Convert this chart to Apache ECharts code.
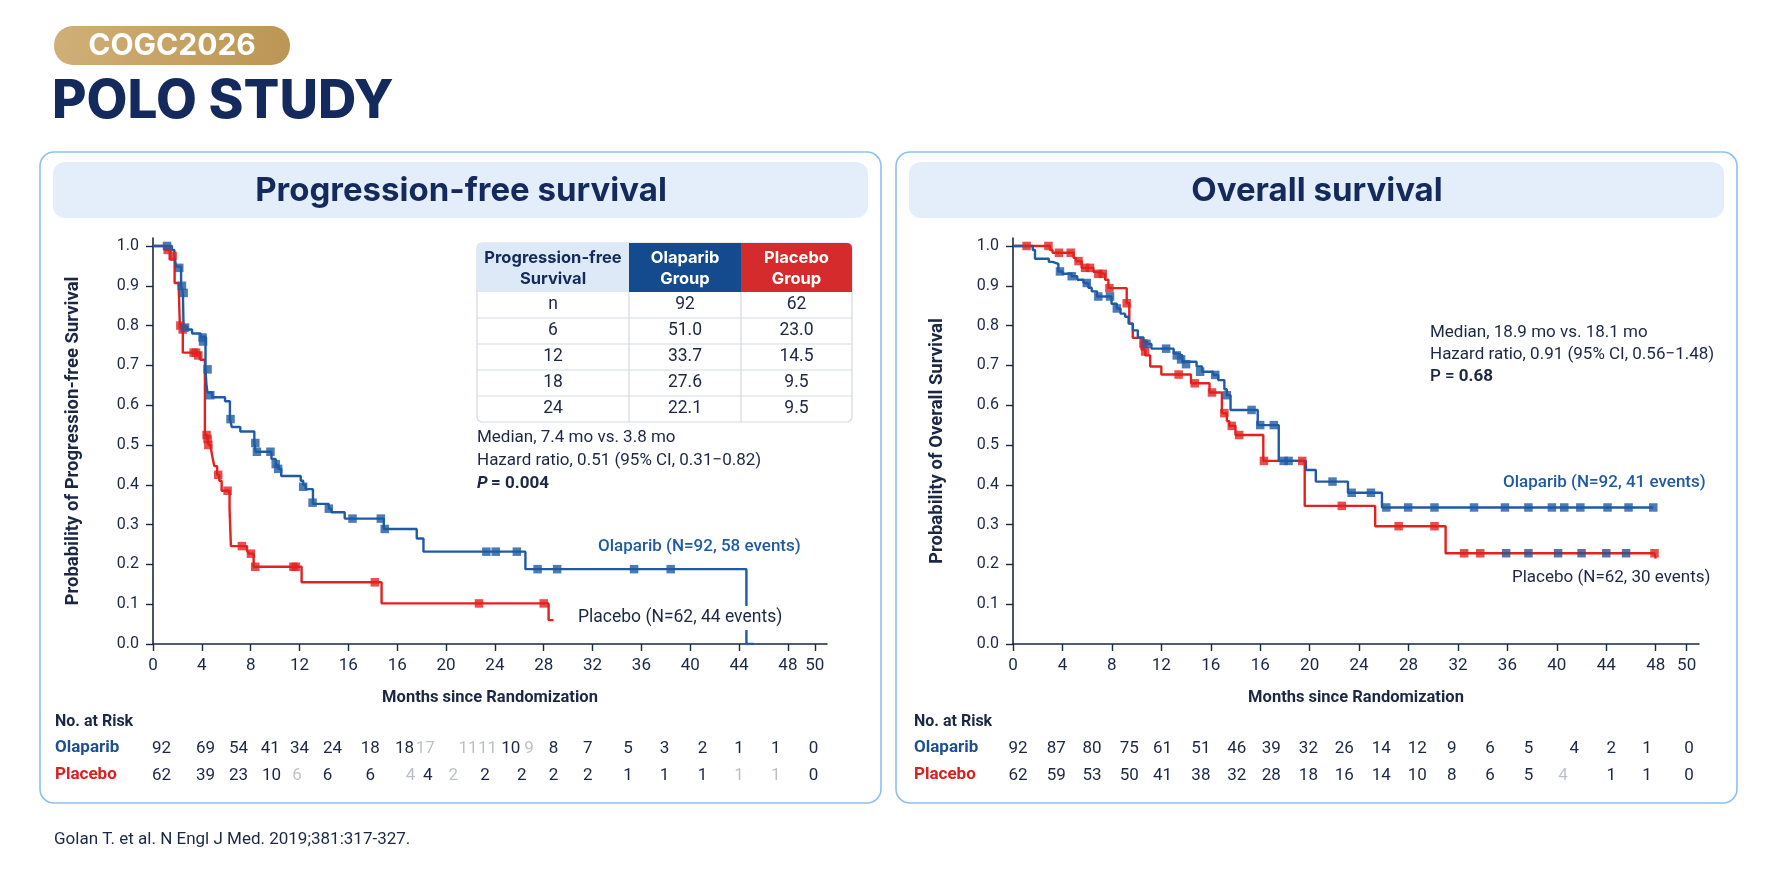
<!DOCTYPE html>
<html>
<head>
<meta charset="utf-8">
<script src="https://cdn.jsdelivr.net/npm/echarts@6/dist/echarts.min.js"></script>
<style>
html,body{margin:0;padding:0;background:#ffffff;}
#c{width:1774px;height:887px;}
</style>
</head>
<body>
<div id="c"></div>
<script>
// ---------- tick labels (axis units: equal spacing per label, as printed) ----------
const X_TICK_LABELS = ['0','4','8','12','16','16','20','24','28','32','36','40','44','48','50'];
const PFS_X_TICKS = [0,4,8,12,16,20,24,28,32,36,40,44,48,52,54.2];
const OS_X_TICKS  = [0,4,8,12,16,20,24,28,32,36,40,44,48,52,54.5];
const Y_TICKS = [0,0.1,0.2,0.3,0.4,0.5,0.6,0.7,0.8,0.9,1.0];

// ---------- Progression-free survival ----------
const PFS_OLA_CURVE = [[0,1.0],[1.55,0.99],[1.75,0.975],[1.9,0.948],[2.3,0.90],[2.45,0.882],[2.5,0.798],[2.8,0.79],[3.2,0.78],[3.9,0.772],[4.3,0.69],[4.38,0.65],[4.46,0.632],[4.85,0.62],[5.9,0.61],[6.3,0.565],[6.45,0.545],[7.15,0.534],[8.3,0.505],[8.4,0.483],[9.7,0.465],[10.05,0.45],[10.25,0.44],[10.5,0.422],[12.1,0.41],[12.3,0.40],[12.5,0.389],[13.1,0.352],[14.4,0.34],[14.6,0.331],[15.7,0.315],[18.9,0.289],[21.6,0.265],[22.15,0.232],[30.5,0.188],[48.6,0.0],[49.2,0.0]];
const PFS_OLA_CENSOR = [[1.15,1.0],[2.15,0.945],[2.37,0.90],[2.51,0.882],[2.62,0.795],[4.06,0.77],[4.1,0.76],[4.47,0.69],[4.69,0.625],[6.35,0.565],[8.38,0.505],[8.51,0.483],[9.62,0.483],[10.05,0.452],[10.25,0.44],[12.3,0.395],[13.07,0.355],[14.4,0.34],[16.34,0.315],[18.66,0.315],[18.98,0.289],[27.3,0.232],[28.07,0.232],[29.8,0.232],[31.5,0.188],[33.1,0.188],[39.4,0.188],[42.4,0.188]];
const PFS_PLA_CURVE = [[0,1.0],[0.97,0.99],[1.4,0.966],[1.77,0.907],[2.1,0.90],[2.2,0.80],[2.44,0.732],[3.86,0.714],[4.25,0.525],[4.45,0.515],[4.57,0.50],[4.75,0.49],[4.88,0.468],[5.02,0.447],[5.25,0.425],[5.43,0.41],[5.62,0.385],[6.27,0.339],[6.38,0.246],[7.7,0.235],[7.85,0.227],[8.24,0.194],[12.17,0.155],[18.72,0.102],[32.4,0.06],[32.8,0.06]];
const PFS_PLA_CENSOR = [[1.2,0.99],[1.61,0.975],[2.24,0.80],[2.43,0.79],[3.33,0.732],[3.52,0.732],[3.71,0.725],[4.39,0.525],[4.47,0.515],[4.53,0.50],[5.34,0.425],[6.11,0.385],[7.28,0.246],[8.02,0.227],[8.37,0.194],[11.5,0.194],[11.7,0.194],[18.17,0.155],[26.7,0.102],[32.0,0.102]];

// ---------- Overall survival ----------
const OS_OLA_CURVE = [[0,1.0],[1.6,0.99],[1.78,0.968],[2.9,0.96],[3.2,0.955],[3.67,0.936],[4.0,0.93],[4.75,0.924],[5.2,0.915],[5.7,0.907],[6.1,0.895],[6.37,0.886],[6.8,0.873],[7.97,0.855],[8.4,0.843],[8.7,0.83],[9.07,0.822],[9.35,0.805],[9.7,0.788],[10.1,0.77],[10.56,0.76],[10.8,0.754],[11.2,0.742],[13.0,0.73],[13.3,0.725],[13.7,0.709],[14.85,0.697],[15.3,0.684],[16.2,0.676],[16.6,0.663],[17.1,0.64],[17.3,0.625],[17.6,0.588],[19.8,0.55],[21.5,0.46],[23.7,0.437],[24.5,0.408],[27.1,0.38],[29.85,0.343],[51.8,0.343]];
const OS_OLA_CENSOR = [[3.8,0.936],[4.75,0.924],[5.97,0.907],[6.9,0.873],[7.85,0.873],[8.4,0.843],[10.8,0.754],[12.39,0.742],[13.25,0.725],[13.6,0.715],[14.0,0.703],[15.14,0.684],[16.36,0.676],[17.3,0.625],[19.3,0.588],[20.0,0.55],[21.1,0.55],[21.9,0.46],[22.3,0.46],[25.85,0.408],[27.4,0.38],[28.96,0.38],[30.2,0.343],[31.97,0.343],[34.1,0.343],[37.3,0.343],[39.8,0.343],[41.7,0.343],[43.6,0.343],[44.6,0.343],[45.9,0.343],[48.1,0.343],[49.8,0.343],[51.8,0.343]];
const OS_PLA_CURVE = [[0,1.0],[3.0,0.99],[3.2,0.983],[4.9,0.97],[5.1,0.962],[5.56,0.945],[6.5,0.935],[6.7,0.93],[7.45,0.915],[7.72,0.894],[9.2,0.856],[9.41,0.805],[9.69,0.769],[10.4,0.74],[10.7,0.725],[11.1,0.697],[12.0,0.677],[14.4,0.655],[15.9,0.632],[16.9,0.58],[17.3,0.56],[17.5,0.548],[18.0,0.525],[20.25,0.46],[23.6,0.347],[29.3,0.296],[35.0,0.228],[51.9,0.228],[52.0,0.215]];
const OS_PLA_CENSOR = [[1.1,1.0],[2.87,1.0],[3.72,0.983],[4.67,0.983],[5.3,0.962],[5.83,0.945],[6.23,0.945],[6.9,0.93],[7.26,0.93],[7.8,0.894],[9.2,0.856],[10.55,0.755],[10.69,0.735],[13.4,0.677],[14.7,0.655],[16.1,0.632],[17.1,0.58],[17.7,0.548],[18.3,0.525],[20.3,0.46],[23.4,0.46],[26.6,0.347],[31.2,0.296],[34.1,0.296],[36.5,0.228],[37.8,0.228],[51.9,0.228]];
const OS_PLA_CENSOR_DARK = [[39.9,0.228],[41.7,0.228],[44.1,0.228],[46.0,0.228],[48.0,0.228],[49.6,0.228]];

// ---------- Numbers at risk ----------
const PFS_RISK_OLA_T = [0.7,4.3,7.0,9.6,12.0,14.7,17.8,20.6,22.3,25.8,27.4,29.3,30.8,32.8,35.6,38.9,41.9,45.0,48.0,51.0,54.1];
const PFS_RISK_OLA   = ['92','69','54','41','34','24','18','18','17','11','11','10','9','8','7','5','3','2','1','1','0'];
const PFS_RISK_OLA_FADED = [8,9,10,12];
const PFS_RISK_PLA_T = [0.7,4.3,7.0,9.7,11.8,14.3,17.8,21.1,22.5,24.6,27.2,30.2,32.8,35.6,38.9,41.9,45.0,48.0,51.0,54.1];
const PFS_RISK_PLA   = ['62','39','23','10','6','6','6','4','4','2','2','2','2','2','1','1','1','1','1','0'];
const PFS_RISK_PLA_FADED = [4,7,9,17,18];
const OS_RISK_OLA_T = [0.4,3.5,6.4,9.4,12.1,15.2,18.1,20.9,23.9,26.8,29.8,32.7,35.5,38.6,41.7,45.4,48.4,51.3,54.7];
const OS_RISK_OLA   = ['92','87','80','75','61','51','46','39','32','26','14','12','9','6','5','4','2','1','0'];
const OS_RISK_PLA_T = [0.4,3.5,6.4,9.4,12.1,15.2,18.1,20.9,23.9,26.8,29.8,32.7,35.5,38.6,41.7,44.5,48.4,51.3,54.7];
const OS_RISK_PLA   = ['62','59','53','50','41','38','32','28','18','16','14','10','8','6','5','4','1','1','0'];
const OS_RISK_PLA_FADED = [15];

// ---------- Table ----------
const TABLE_HEAD = ['Progression-free\nSurvival','Olaparib\nGroup','Placebo\nGroup'];
const TABLE_ROWS = ['n','6','12','18','24'];
const TABLE_OLA  = ['92','51.0','33.7','27.6','22.1'];
const TABLE_PLA  = ['62','23.0','14.5','9.5','9.5'];

// ---------- styles ----------
const NAVY = '#1b2744';
const TITLE_NAVY = '#152a5c';
const BLUE = '#1f5ba4';
const RED = '#e3211f';
const FONT = 'Roboto, "Noto Sans", sans-serif';
const HFONT = 'Inter, Roboto, sans-serif';

const chart = echarts.init(document.getElementById('c'), null, {renderer:'canvas'});

function findLabel(ticks, v){
  const i = ticks.findIndex(t => Math.abs(t - v) < 1e-6);
  return i >= 0 ? X_TICK_LABELS[i] : '';
}
function mainX(gi, ticks, max){
  return {
    type:'value', gridIndex:gi, min:0, max:max,
    axisLine:{show:true, onZero:false, lineStyle:{color:NAVY, width:1.6}},
    axisTick:{show:true, length:7, customValues:ticks, lineStyle:{color:NAVY, width:1.4}},
    axisLabel:{customValues:ticks, formatter:v=>findLabel(ticks,v), color:NAVY, fontSize:17, fontFamily:FONT, margin:13, hideOverlap:false},
    splitLine:{show:false},
    name:'Months since Randomization', nameLocation:'middle', nameGap:45,
    nameTextStyle:{color:NAVY, fontWeight:'bold', fontSize:16.5, fontFamily:FONT}
  };
}
function mainY(gi, name, gap){
  return {
    type:'value', gridIndex:gi, min:0, max:1.02,
    axisLine:{show:true, onZero:false, lineStyle:{color:NAVY, width:1.6}},
    axisTick:{show:true, length:7, customValues:Y_TICKS, lineStyle:{color:NAVY, width:1.4}},
    axisLabel:{customValues:Y_TICKS, formatter:v=>v.toFixed(1), color:NAVY, fontSize:16, fontFamily:FONT, margin:14},
    splitLine:{show:false},
    name:name, nameLocation:'middle', nameGap:gap, nameRotate:90,
    nameTextStyle:{color:NAVY, fontWeight:'bold', fontSize:18.5, fontFamily:FONT}
  };
}
function riskX(gi, max){ return {type:'value', gridIndex:gi, min:0, max:max, show:false}; }
function riskY(gi){ return {type:'category', gridIndex:gi, data:['Placebo','Olaparib'], show:false}; }

function curve(xi, data, color){
  return {type:'line', xAxisIndex:xi, yAxisIndex:xi, data:data, step:'end', showSymbol:false, silent:true,
    lineStyle:{color:color, width:2.4}, itemStyle:{color:color}, z:3};
}
function marks(xi, data, color){
  return {type:'scatter', xAxisIndex:xi, yAxisIndex:xi, data:data, symbol:'rect', symbolSize:8.5, silent:true,
    itemStyle:{color:color}, z:4};
}
function risk(xi, times, vals, row, faded){
  return {type:'scatter', xAxisIndex:xi, yAxisIndex:xi, silent:true, symbolSize:1,
    itemStyle:{color:'rgba(0,0,0,0)'},
    data: times.map((t,i)=>({value:[t,row,vals[i]], label:{opacity: faded.indexOf(i)>=0 ? 0.3 : 1}})),
    label:{show:true, position:'inside', formatter:p=>p.value[2], color:NAVY, fontSize:17, fontFamily:FONT}};
}

// ---------- graphic: panels, titles, table, texts ----------
const G = [];
function txt(x,y,text,opt){
  G.push({type:'text', z:100, style:Object.assign({x:x, y:y, text:text, fill:NAVY, font:'17px '+FONT, textAlign:'left', textVerticalAlign:'middle', verticalAlign:'middle'}, opt||{})});
}
// badge & heading
G.push({type:'rect', z:0, shape:{x:54,y:26,width:236,height:39,r:19},
  style:{fill:new echarts.graphic.LinearGradient(0,0,1,1,[{offset:0,color:'#d0b078'},{offset:1,color:'#bb9554'}])}});
txt(172,46,'COGC2026',{fill:'#ffffff', font:'bold 30px '+HFONT, textAlign:'center'});
txt(52,102,'POLO STUDY',{fill:TITLE_NAVY, font:'800 53px '+HFONT});
// panels
[[40,'Progression-free survival'],[896,'Overall survival']].forEach(([px,title])=>{
  G.push({type:'rect', z:0, shape:{x:px,y:152,width:841,height:651,r:14}, style:{fill:'#ffffff', stroke:'#8fc0ec', lineWidth:1.6}});
  G.push({type:'rect', z:0, shape:{x:px+13,y:162,width:815,height:56,r:12}, style:{fill:'#e4eefa'}});
  txt(px+421,191,title,{fill:TITLE_NAVY, font:'bold 33px '+HFONT, textAlign:'center'});
});
// table
(function(){
  const cx = [477,629,741,852];
  const ry = [243,292,318,344,370,396,422];
  const heads = ['#dde9f7','#134b8e','#d52b2c'];
  const headFill = [TITLE_NAVY,'#ffffff','#ffffff'];
  G.push({type:'rect', z:90, shape:{x:cx[0],y:ry[0],width:cx[3]-cx[0],height:ry[6]-ry[0],r:5}, style:{fill:'#ffffff', stroke:'#d3d9e2', lineWidth:1.2}});
  for(let c=0;c<3;c++){
    const r = c===0?[5,0,0,0]:(c===2?[0,5,0,0]:0);
    G.push({type:'rect', z:91, shape:{x:cx[c],y:ry[0],width:cx[c+1]-cx[c],height:ry[1]-ry[0],r:r}, style:{fill:heads[c]}});
    G.push({type:'text', z:95, style:{x:(cx[c]+cx[c+1])/2, y:(ry[0]+ry[1])/2+1, text:TABLE_HEAD[c], fill:headFill[c], font:'bold 16.5px '+HFONT, lineHeight:21, textAlign:'center', textVerticalAlign:'middle', verticalAlign:'middle'}});
  }
  for(let r=2;r<6;r++){
    G.push({type:'line', z:92, shape:{x1:cx[0],y1:ry[r],x2:cx[3],y2:ry[r]}, style:{stroke:'#d3d9e2', lineWidth:1.2}});
  }
  for(let c=1;c<3;c++){
    G.push({type:'line', z:92, shape:{x1:cx[c],y1:ry[1],x2:cx[c],y2:ry[6]}, style:{stroke:'#d3d9e2', lineWidth:1.2}});
  }
  const cols = [TABLE_ROWS, TABLE_OLA, TABLE_PLA];
  for(let r=0;r<5;r++){
    for(let c=0;c<3;c++){
      G.push({type:'text', z:95, style:{x:(cx[c]+cx[c+1])/2, y:(ry[r+1]+ry[r+2])/2, text:cols[c][r], fill:NAVY, font:'17.5px '+FONT, textAlign:'center', textVerticalAlign:'middle', verticalAlign:'middle'}});
    }
  }
})();
// stats text
txt(477,438,'Median, 7.4 mo vs. 3.8 mo');
txt(477,461,'Hazard ratio, 0.51 (95% CI, 0.31\u22120.82)');
G.push({type:'text', z:100, style:{x:477, y:484, text:'{i|P} {b|= 0.004}', textVerticalAlign:'middle', verticalAlign:'middle',
  rich:{i:{font:'italic bold 17px '+FONT, fill:NAVY}, b:{font:'bold 17px '+FONT, fill:NAVY}}}});
txt(1430,333,'Median, 18.9 mo vs. 18.1 mo');
txt(1430,355,'Hazard ratio, 0.91 (95% CI, 0.56\u22121.48)');
G.push({type:'text', z:100, style:{x:1430, y:377, text:'{n|P = }{b|0.68}', textVerticalAlign:'middle', verticalAlign:'middle',
  rich:{n:{font:'500 17px '+FONT, fill:NAVY}, b:{font:'bold 17px '+FONT, fill:NAVY}}}});
// curve labels
txt(598,547,'Olaparib (N=92, 58 events)',{fill:BLUE, font:'500 17px '+FONT});
txt(576,618,'Placebo (N=62, 44 events)',{font:'17.5px '+FONT, backgroundColor:'#ffffff', padding:[3,2,3,2]});
txt(1503,483,'Olaparib (N=92, 41 events)',{fill:BLUE, font:'500 17px '+FONT});
txt(1512,578,'Placebo (N=62, 30 events)');
// at-risk row titles
[[55],[914]].forEach(([x])=>{
  txt(x,722,'No. at Risk',{font:'bold 16px '+FONT});
  txt(x,748,'Olaparib',{fill:'#1d4f91', font:'bold 17px '+FONT});
  txt(x,775,'Placebo',{fill:'#d9201f', font:'bold 17px '+FONT});
});
// citation
txt(54,840,'Golan T. et al. N Engl J Med. 2019;381:317-327.',{font:'17px '+FONT});

const option = {
  animation:false,
  backgroundColor:'#ffffff',
  textStyle:{fontFamily:FONT},
  grid:[
    {left:153, top:238, width:674, height:406},
    {left:1013, top:238, width:686, height:406},
    {left:153, top:735, width:674, height:54},
    {left:1013, top:735, width:686, height:54}
  ],
  xAxis:[ mainX(0,PFS_X_TICKS,55.2), mainX(1,OS_X_TICKS,55.5), riskX(2,55.2), riskX(3,55.5) ],
  yAxis:[ mainY(0,'Probability of Progression-free Survival',70), mainY(1,'Probability of Overall Survival',66), riskY(2), riskY(3) ],
  graphic: G,
  series:[
    curve(0, PFS_PLA_CURVE, RED), marks(0, PFS_PLA_CENSOR, RED),
    curve(0, PFS_OLA_CURVE, BLUE), marks(0, PFS_OLA_CENSOR, BLUE),
    curve(1, OS_PLA_CURVE, RED), marks(1, OS_PLA_CENSOR, RED),
    curve(1, OS_OLA_CURVE, BLUE), marks(1, OS_OLA_CENSOR, BLUE),
    marks(1, OS_PLA_CENSOR_DARK, '#2f4f8f'),
    risk(2, PFS_RISK_OLA_T, PFS_RISK_OLA, 'Olaparib', PFS_RISK_OLA_FADED),
    risk(2, PFS_RISK_PLA_T, PFS_RISK_PLA, 'Placebo', PFS_RISK_PLA_FADED),
    risk(3, OS_RISK_OLA_T, OS_RISK_OLA, 'Olaparib', []),
    risk(3, OS_RISK_PLA_T, OS_RISK_PLA, 'Placebo', OS_RISK_PLA_FADED)
  ]
};
chart.setOption(option);
</script>
</body>
</html>
